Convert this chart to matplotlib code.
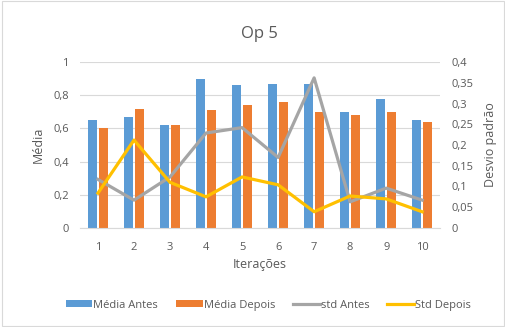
import numpy as np
import matplotlib.pyplot as plt
from matplotlib.ticker import FuncFormatter

iteracoes = [1, 2, 3, 4, 5, 6, 7, 8, 9, 10]
media_antes = [0.65, 0.67, 0.62, 0.90, 0.86, 0.87, 0.87, 0.70, 0.78, 0.65]
media_depois = [0.60, 0.72, 0.62, 0.71, 0.74, 0.76, 0.70, 0.68, 0.70, 0.64]
std_antes = [0.117, 0.067, 0.123, 0.229, 0.242, 0.17, 0.362, 0.063, 0.096, 0.067]
std_depois = [0.084, 0.212, 0.11, 0.075, 0.123, 0.104, 0.039, 0.077, 0.07, 0.039]

plt.rcParams['font.family'] = ['Open Sans', 'DejaVu Sans']
txt = '#595959'

fig = plt.figure(figsize=(5.06, 3.27), dpi=100)
ax = fig.add_axes([0.158, 0.303, 0.712, 0.507])
ax2 = ax.twinx()

x = np.arange(len(iteracoes))
w = 0.25
ax.bar(x - w / 2 - 0.02, media_antes, w, color='#5B9BD5', label='Média Antes', zorder=2)
ax.bar(x + w / 2 + 0.02, media_depois, w, color='#ED7D31', label='Média Depois', zorder=2)
ax2.plot(x, std_antes, color='#A5A5A5', lw=2.3, label='std Antes')
ax2.plot(x, std_depois, color='#FFC000', lw=2.3, label='Std Depois')

virg = FuncFormatter(lambda v, p: ('%g' % round(v, 2)).replace('.', ','))
ax.set_ylim(0, 1)
ax.set_yticks(np.arange(0, 1.01, 0.2))
ax.yaxis.set_major_formatter(virg)
ax2.set_ylim(0, 0.4)
ax2.set_yticks(np.arange(0, 0.401, 0.05))
ax2.yaxis.set_major_formatter(virg)
ax.set_xlim(-0.5, len(iteracoes) - 0.5)
ax.set_xticks(x)
ax.set_xticklabels(iteracoes)

ax.grid(axis='y', color='#D9D9D9', lw=0.8, zorder=0)
for a in (ax, ax2):
    for s in a.spines.values():
        s.set_visible(False)
    a.tick_params(length=0, labelsize=8, colors=txt, pad=8)
ax.tick_params(axis='x', pad=10)
ax.spines['bottom'].set_visible(True)
ax.spines['bottom'].set_color('#D9D9D9')

ax.set_xlabel('Iterações', fontsize=9, color=txt, labelpad=4)
ax.set_ylabel('Média', fontsize=9, color=txt, labelpad=6)
ax2.set_ylabel('Desvio padrão', fontsize=9, color=txt, labelpad=8)
fig.text(0.513, 0.885, 'Op 5', ha='center', fontsize=12, color=txt)

h1, l1 = ax.get_legend_handles_labels()
h2, l2 = ax2.get_legend_handles_labels()
fig.legend(h1 + h2, l1 + l2, loc='center', bbox_to_anchor=(0.53, 0.067), ncol=4,
           frameon=False, fontsize=8, labelcolor=txt, handlelength=2.4,
           handleheight=0.5, handletextpad=0.1, columnspacing=1.6)

fig.patches.append(plt.Rectangle((0.003, 0.003), 0.994, 0.994, transform=fig.transFigure,
                                 fill=False, ec='#D9D9D9', lw=0.8))
fig.savefig('out.png', dpi=100)
